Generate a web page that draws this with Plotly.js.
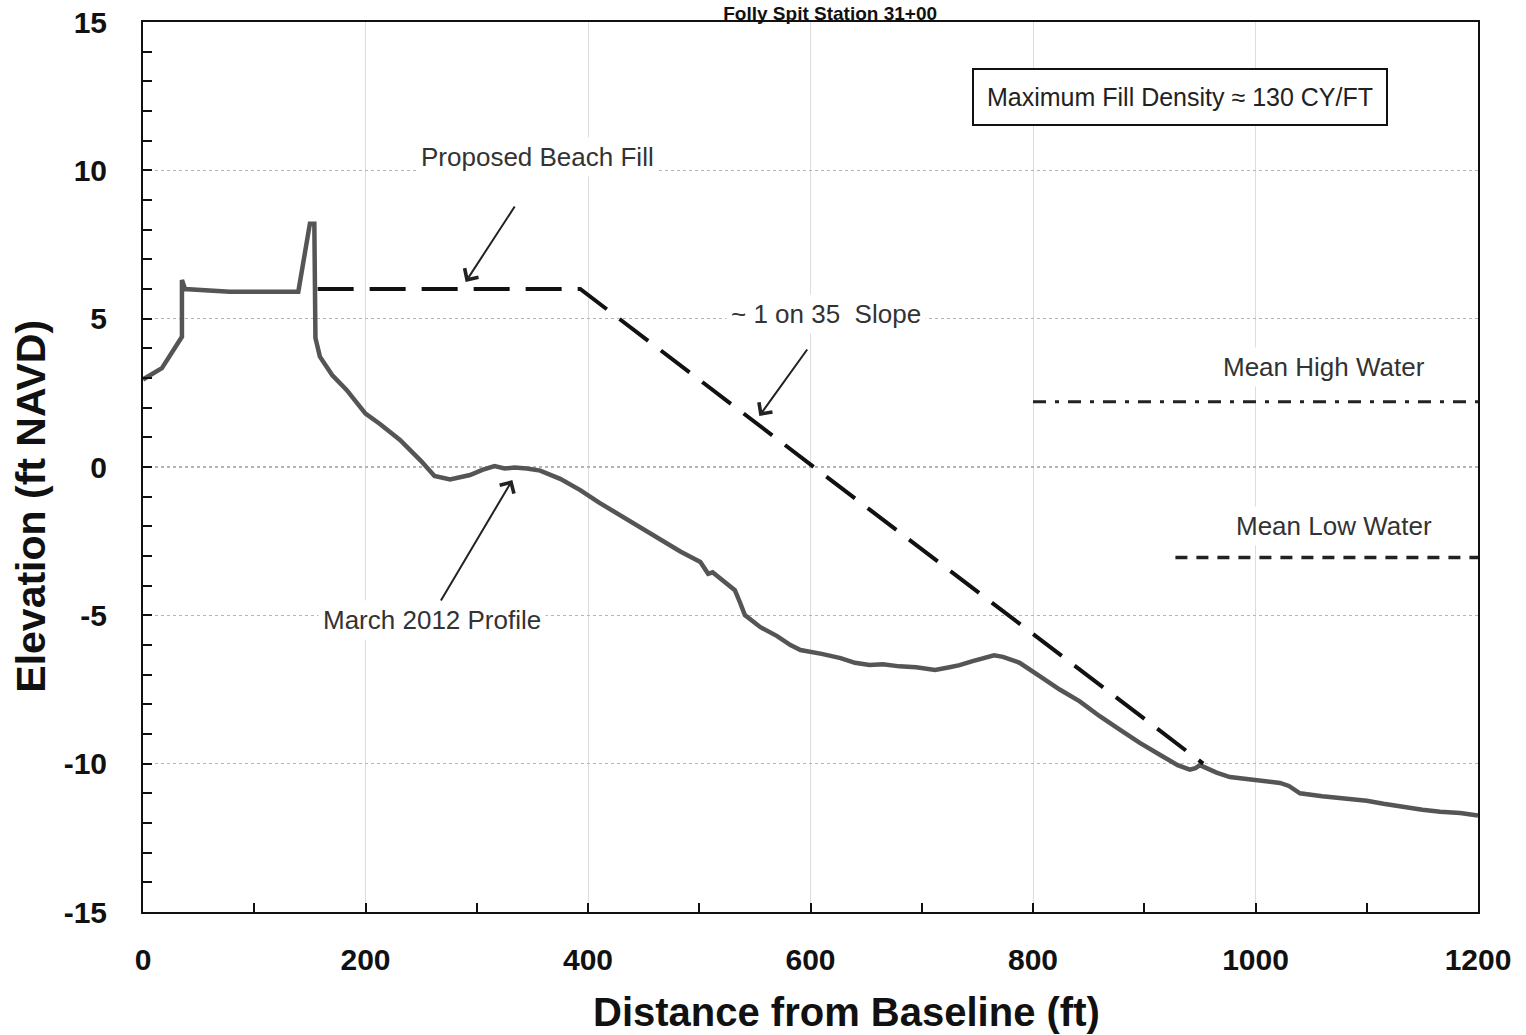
<!DOCTYPE html>
<html>
<head>
<meta charset="utf-8">
<script src="https://cdn.plot.ly/plotly-3.0.1.min.js"></script>
<style>html,body{margin:0;padding:0;background:#fff;}#chart{width:1526px;height:1035px;}</style>
</head>
<body>
<div id="chart"></div>
<script>
// ---- Data ----
const profileX = [0, 17, 35, 35, 37.8, 78, 139.6, 145, 150, 154, 155, 159, 170, 183, 200, 213, 231, 250, 262, 276, 294, 305, 316, 325, 334, 345, 357, 375, 393, 410, 429, 447, 465, 483, 501, 505, 508, 512, 519, 532, 537, 541, 555, 570, 582, 591, 610, 627, 640, 653, 665, 680, 695, 712, 725, 734, 745, 757, 765, 773, 788, 806, 824, 842, 860, 878, 896, 914, 930, 941, 946, 950, 965, 977, 990, 1000, 1022, 1030, 1040, 1060, 1085, 1100, 1115, 1130, 1150, 1166, 1184, 1200];
const profileY = [2.95, 3.33, 4.39, 6.3, 6.0, 5.91, 5.91, 7.2, 8.2, 8.2, 4.35, 3.72, 3.1, 2.6, 1.8, 1.45, 0.91, 0.2, -0.3, -0.42, -0.27, -0.1, 0.03, -0.05, -0.02, -0.05, -0.12, -0.4, -0.78, -1.2, -1.62, -2.05, -2.46, -2.85, -3.2, -3.45, -3.6, -3.55, -3.75, -4.15, -4.6, -4.99, -5.4, -5.7, -6.0, -6.17, -6.3, -6.44, -6.6, -6.67, -6.65, -6.72, -6.75, -6.84, -6.75, -6.68, -6.55, -6.42, -6.35, -6.4, -6.6, -7.05, -7.5, -7.9, -8.4, -8.85, -9.3, -9.7, -10.05, -10.2, -10.15, -10.05, -10.3, -10.45, -10.5, -10.55, -10.65, -10.75, -11.0, -11.1, -11.2, -11.25, -11.35, -11.45, -11.55, -11.62, -11.66, -11.75];

const fillX = [157, 393, 953];
const fillY = [6, 6, -10];

const mhwX = [800, 1200];
const mhwY = [2.2, 2.2];

const mlwX = [928, 1200];
const mlwY = [-3.05, -3.05];

const xTicks = [0, 200, 400, 600, 800, 1000, 1200];
const yTicks = [-15, -10, -5, 0, 5, 10, 15];

const titleText = 'Folly Spit Station 31+00';
const xTitle = 'Distance from Baseline (ft)';
const yTitle = 'Elevation (ft NAVD)';

// label texts and anchor points (data coords)
const labels = [
  {text: 'Proposed Beach Fill', x: 355, y: 10.45},
  {text: '~ 1 on 35  Slope', x: 614, y: 5.16},
  {text: 'March 2012 Profile', x: 260, y: -5.16},
  {text: 'Mean High Water', x: 1062, y: 3.37},
  {text: 'Mean Low Water', x: 1071, y: -1.99}
];
// arrows: head (x,y) and tail (ax,ay)
const arrows = [
  {x: 290, y: 6.24, ax: 335, ay: 8.83},
  {x: 554, y: 1.72, ax: 598, ay: 4.01},
  {x: 332, y: -0.44, ax: 267, ay: -4.55}
];
const boxNote = {text: 'Maximum Fill Density \u2248 130 CY/FT', x: 932, y: 12.47};

// ---- Chart ----
const sans = '"Liberation Sans", Arial, sans-serif';

const traces = [
  {x: profileX, y: profileY, mode: 'lines', line: {color: '#555555', width: 4.5}, hoverinfo: 'skip'},
  {x: fillX, y: fillY, mode: 'lines', line: {color: '#111111', width: 4, dash: '36px,16px'}, hoverinfo: 'skip'},
  {x: mhwX, y: mhwY, mode: 'lines', line: {color: '#222222', width: 3, dash: '13px,9px,4px,9px'}, hoverinfo: 'skip'},
  {x: mlwX, y: mlwY, mode: 'lines', line: {color: '#222222', width: 3.5, dash: '12px,9px'}, hoverinfo: 'skip'}
];

const annotations = [];
labels.forEach(l => annotations.push({
  x: l.x, y: l.y, xref: 'x', yref: 'y', text: l.text, showarrow: false,
  font: {family: sans, size: 26, color: '#333333'}, bgcolor: '#ffffff', borderpad: 4
}));
arrows.forEach(a => annotations.push({
  x: a.x, y: a.y, ax: a.ax, ay: a.ay, xref: 'x', yref: 'y', axref: 'x', ayref: 'y',
  text: '', showarrow: true, arrowhead: 4, arrowsize: 1.6, arrowwidth: 2, arrowcolor: '#222222'
}));
annotations.push({
  x: boxNote.x, y: boxNote.y, xref: 'x', yref: 'y', text: boxNote.text, showarrow: false,
  font: {family: sans, size: 25, color: '#222222'}, bgcolor: '#ffffff',
  bordercolor: '#111111', borderwidth: 2, borderpad: 13
});
// axis titles placed as annotations to match reference positions
annotations.push({
  text: yTitle, xref: 'paper', yref: 'paper', x: -0.0835, y: 0.456, xanchor: 'center', yanchor: 'middle',
  textangle: -90, showarrow: false,
  font: {family: sans, size: 41, color: '#111111', weight: 'bold'}
});
annotations.push({
  text: xTitle, xref: 'paper', yref: 'paper', x: 0.527, y: -0.112, xanchor: 'center', yanchor: 'middle',
  showarrow: false,
  font: {family: sans, size: 40, color: '#111111', weight: 'bold'}
});

const layout = {
  width: 1526, height: 1035,
  margin: {l: 143, r: 48, t: 22, b: 123},
  paper_bgcolor: '#ffffff', plot_bgcolor: '#ffffff',
  showlegend: false,
  title: {text: titleText, xref: 'container', x: 0.544, xanchor: 'center',
          yref: 'container', y: 0.981, yanchor: 'bottom', pad: {t: 0, b: 0},
          font: {family: sans, size: 19, color: '#111111', weight: 'bold'}},
  xaxis: {
    range: [0, 1200], tickvals: xTicks, ticktext: xTicks.map(String),
    ticks: 'inside', ticklen: 9, tickwidth: 2, tickcolor: '#111',
    minor: {dtick: 100, tick0: 0, ticks: 'inside', ticklen: 9, tickwidth: 2, tickcolor: '#111', showgrid: false},
    showline: true, linecolor: '#111111', linewidth: 2, mirror: true,
    showgrid: true, gridcolor: '#dddddd', gridwidth: 1,
    zeroline: false, ticklabelstandoff: 20,
    tickfont: {family: sans, size: 30, color: '#111111', weight: 'bold'}
  },
  yaxis: {
    range: [-15, 15], tickvals: yTicks, ticktext: yTicks.map(String),
    ticks: 'inside', ticklen: 9, tickwidth: 2, tickcolor: '#111',
    minor: {dtick: 1, tick0: 0, ticks: 'inside', ticklen: 9, tickwidth: 2, tickcolor: '#111', showgrid: false},
    showline: true, linecolor: '#111111', linewidth: 2, mirror: true,
    showgrid: true, gridcolor: '#b5b5b5', gridwidth: 1.5, griddash: 'dot',
    zeroline: false, ticklabelstandoff: 28,
    tickfont: {family: sans, size: 30, color: '#111111', weight: 'bold'}
  },
  annotations: annotations
};

Plotly.newPlot('chart', traces, layout, {displayModeBar: false, staticPlot: true});
</script>
</body>
</html>
